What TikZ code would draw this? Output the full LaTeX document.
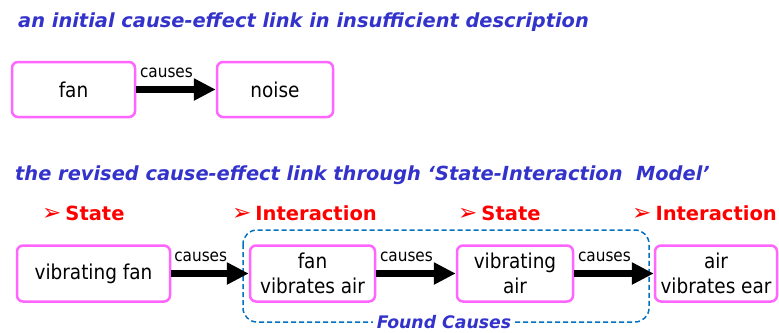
\documentclass[tikz,border=0pt]{standalone}
\usepackage{fontspec}
\setmainfont{DejaVu Sans}
\newfontfamily\boxfont{DejaVu Sans Condensed}
\usetikzlibrary{arrows.meta}
\definecolor{headblue}{RGB}{51,51,204}
\definecolor{boxpink}{RGB}{255,102,255}
\definecolor{dashblue}{RGB}{0,112,192}
\definecolor{tagred}{RGB}{255,0,0}
\newcommand{\tagmark}{{\fontsize{23}{22}\selectfont\char"27A2}\hspace{4pt}}
\tikzset{
  px/.style={x={(1pt,0)},y={(0,-1pt)}},
  heading/.style={anchor=west,inner sep=0pt,text=headblue,font=\fontsize{19.4}{22}\selectfont\bfseries\itshape},
  tag/.style={anchor=west,inner sep=0pt,text=tagred,font=\fontsize{19.5}{22}\selectfont\bfseries},
  entity/.style={draw=boxpink,line width=2.5pt,rounded corners=6pt,fill=white,
    align=center,inner sep=0pt,font=\boxfont\fontsize{20.5}{25}\selectfont},
  causal/.style={line width=7pt,-{Triangle[length=22pt,width=21pt]}},
  causelabel/.style={inner sep=0pt,font=\boxfont\fontsize{17}{19}\selectfont},
  group/.style={draw=dashblue,line width=1.5pt,dash pattern=on 5pt off 3pt,rounded corners=14pt},
}
\begin{document}
\begin{tikzpicture}[px]
\useasboundingbox (0,0) rectangle (779,332);

% first version of the link
\node[heading] (h1) at (18,22) {an initial cause-effect link in insufficient description};
\node[entity,minimum width=123pt,minimum height=55pt] (fan) at (73.5,89.5) {fan};
\node[entity,minimum width=116pt,minimum height=55pt] (noise) at (275,89.5) {noise};
\draw[causal] (fan) -- (noise) node[causelabel,pos=0.38,above=8pt] (c0) {causes};

% revised version through the state-interaction model
\node[heading] (h2) at (15,175) {the revised cause-effect link through ‘State-Interaction\ \ Model’};

\node[tag] (t1) at (42,213) {\tagmark State};
\node[tag] (t2) at (232,213) {\tagmark Interaction};
\node[tag] (t3) at (458,213) {\tagmark State};
\node[tag,anchor=east] (t4) at (777,213) {\tagmark Interaction};

% found causes group (drawn first, under the boxes)
\coordinate (gnw) at (243,230);
\coordinate (gse) at (649,322);
\draw[group] (gnw) rectangle (gse);
\node[fill=white,inner xsep=4pt,inner ysep=0pt,text=headblue,
  font=\fontsize{17.3}{19}\selectfont\bfseries\itshape] (found) at (444,322) {Found Causes};

\node[entity,minimum width=153pt,minimum height=56pt] (vfan) at (93.5,273.5) {vibrating fan};
\node[entity,minimum width=125pt,minimum height=56pt] (fva) at (312.5,273.5) {fan\\vibrates air};
\node[entity,minimum width=116pt,minimum height=56pt] (vair) at (515,273.5) {vibrating\\air};
\node[entity,minimum width=122pt,minimum height=56pt] (ave) at (716,273.5) {air\\vibrates ear};

\draw[causal] (vfan) -- (fva) node[causelabel,pos=0.38,above=8pt] (c1) {causes};
\draw[causal] (fva) -- (vair) node[causelabel,pos=0.38,above=8pt] (c2) {causes};
\draw[causal] (vair) -- (ave) node[causelabel,pos=0.38,above=8pt] (c3) {causes};
\end{tikzpicture}
\end{document}
